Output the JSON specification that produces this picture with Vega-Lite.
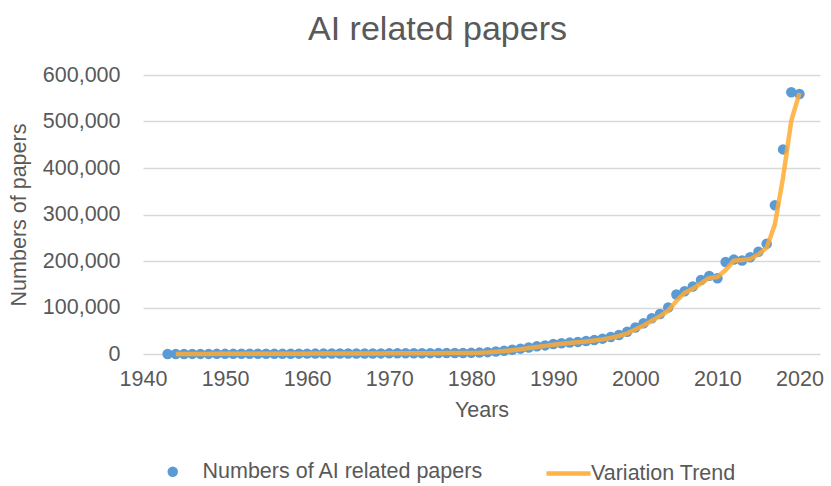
{
  "$schema": "https://vega.github.io/schema/vega-lite/v6.json",
  "width": 677,
  "height": 279,
  "autosize": "none",
  "padding": {"left": 143, "top": 75, "right": 11, "bottom": 132},
  "background": "white",
  "title": {"text": "AI related papers", "fontSize": 34, "font": "Liberation Sans", "color": "#595959", "fontWeight": "normal", "anchor": "middle", "dx": -44, "offset": 17},
  "config": {
    "view": {"stroke": null},
    "axis": {"labelFont": "Liberation Sans", "titleFont": "Liberation Sans", "labelColor": "#595959", "titleColor": "#595959", "labelFontSize": 21.5, "titleFontSize": 21.5, "titleFontWeight": "normal", "domain": false, "ticks": false, "tickSize": 0, "labelFlush": false}
  },
  "data": {"values": [
    {"year": 1943, "papers": 100, "trend": null},
    {"year": 1944, "papers": 150, "trend": 125},
    {"year": 1945, "papers": 150, "trend": 150},
    {"year": 1946, "papers": 200, "trend": 175},
    {"year": 1947, "papers": 200, "trend": 200},
    {"year": 1948, "papers": 250, "trend": 225},
    {"year": 1949, "papers": 300, "trend": 275},
    {"year": 1950, "papers": 300, "trend": 300},
    {"year": 1951, "papers": 350, "trend": 325},
    {"year": 1952, "papers": 400, "trend": 375},
    {"year": 1953, "papers": 450, "trend": 425},
    {"year": 1954, "papers": 500, "trend": 475},
    {"year": 1955, "papers": 550, "trend": 525},
    {"year": 1956, "papers": 600, "trend": 575},
    {"year": 1957, "papers": 650, "trend": 625},
    {"year": 1958, "papers": 700, "trend": 675},
    {"year": 1959, "papers": 750, "trend": 725},
    {"year": 1960, "papers": 800, "trend": 775},
    {"year": 1961, "papers": 850, "trend": 825},
    {"year": 1962, "papers": 900, "trend": 875},
    {"year": 1963, "papers": 950, "trend": 925},
    {"year": 1964, "papers": 1000, "trend": 975},
    {"year": 1965, "papers": 1050, "trend": 1025},
    {"year": 1966, "papers": 1100, "trend": 1075},
    {"year": 1967, "papers": 1150, "trend": 1125},
    {"year": 1968, "papers": 1250, "trend": 1200},
    {"year": 1969, "papers": 1300, "trend": 1275},
    {"year": 1970, "papers": 1400, "trend": 1350},
    {"year": 1971, "papers": 1450, "trend": 1425},
    {"year": 1972, "papers": 1500, "trend": 1475},
    {"year": 1973, "papers": 1600, "trend": 1550},
    {"year": 1974, "papers": 1700, "trend": 1650},
    {"year": 1975, "papers": 1800, "trend": 1750},
    {"year": 1976, "papers": 1900, "trend": 1850},
    {"year": 1977, "papers": 2000, "trend": 1950},
    {"year": 1978, "papers": 2100, "trend": 2050},
    {"year": 1979, "papers": 2300, "trend": 2200},
    {"year": 1980, "papers": 2500, "trend": 2400},
    {"year": 1981, "papers": 3000, "trend": 2750},
    {"year": 1982, "papers": 4000, "trend": 3500},
    {"year": 1983, "papers": 5500, "trend": 4750},
    {"year": 1984, "papers": 7000, "trend": 6250},
    {"year": 1985, "papers": 9000, "trend": 8000},
    {"year": 1986, "papers": 11500, "trend": 10250},
    {"year": 1987, "papers": 14000, "trend": 12750},
    {"year": 1988, "papers": 16500, "trend": 15250},
    {"year": 1989, "papers": 18500, "trend": 17500},
    {"year": 1990, "papers": 21500, "trend": 20000},
    {"year": 1991, "papers": 23000, "trend": 22250},
    {"year": 1992, "papers": 24500, "trend": 23750},
    {"year": 1993, "papers": 26000, "trend": 25250},
    {"year": 1994, "papers": 28000, "trend": 27000},
    {"year": 1995, "papers": 30000, "trend": 29000},
    {"year": 1996, "papers": 33000, "trend": 31500},
    {"year": 1997, "papers": 36500, "trend": 34750},
    {"year": 1998, "papers": 41000, "trend": 38750},
    {"year": 1999, "papers": 48000, "trend": 44500},
    {"year": 2000, "papers": 57000, "trend": 52500},
    {"year": 2001, "papers": 66000, "trend": 61500},
    {"year": 2002, "papers": 77000, "trend": 71500},
    {"year": 2003, "papers": 86000, "trend": 81500},
    {"year": 2004, "papers": 100000, "trend": 93000},
    {"year": 2005, "papers": 128000, "trend": 114000},
    {"year": 2006, "papers": 135000, "trend": 131500},
    {"year": 2007, "papers": 145000, "trend": 140000},
    {"year": 2008, "papers": 159000, "trend": 152000},
    {"year": 2009, "papers": 168000, "trend": 163500},
    {"year": 2010, "papers": 163000, "trend": 165500},
    {"year": 2011, "papers": 198000, "trend": 180500},
    {"year": 2012, "papers": 203000, "trend": 200500},
    {"year": 2013, "papers": 201000, "trend": 202000},
    {"year": 2014, "papers": 208000, "trend": 204500},
    {"year": 2015, "papers": 220000, "trend": 214000},
    {"year": 2016, "papers": 237000, "trend": 228500},
    {"year": 2017, "papers": 320000, "trend": 278500},
    {"year": 2018, "papers": 440000, "trend": 380000},
    {"year": 2019, "papers": 563000, "trend": 501500},
    {"year": 2020, "papers": 559000, "trend": 561000}
  ]},
  "encoding": {
    "x": {"field": "year", "type": "quantitative", "title": "Years",
      "scale": {"domain": [1940, 2022.5], "nice": false, "zero": false},
      "axis": {"values": [1940, 1950, 1960, 1970, 1980, 1990, 2000, 2010, 2020], "format": "d", "grid": false, "labelPadding": 14, "titlePadding": 10}}
  },
  "layer": [
    {
      "mark": {"type": "point", "filled": true, "size": 110, "opacity": 1},
      "encoding": {
        "y": {"field": "papers", "type": "quantitative", "title": "Numbers of papers",
          "scale": {"domain": [0, 600000], "nice": false},
          "axis": {"values": [0, 100000, 200000, 300000, 400000, 500000, 600000], "format": ",d", "grid": true, "gridColor": "#D9D9D9", "gridWidth": 1.5, "labelPadding": 23, "titlePadding": 12}},
        "fill": {"datum": "Numbers of AI related papers", "type": "nominal",
          "scale": {"range": ["#5B9BD5"]},
          "legend": {"orient": "none", "legendX": 19, "legendY": 386, "title": null, "symbolType": "circle",
            "labelFontSize": 21.5, "labelColor": "#595959", "labelFont": "Liberation Sans", "labelLimit": 500,
            "symbolSize": 110, "labelOffset": 19, "padding": 0}}
      }
    },
    {
      "mark": {"type": "line", "strokeWidth": 4.5, "opacity": 0.85},
      "encoding": {
        "y": {"field": "trend", "type": "quantitative"},
        "stroke": {"datum": "Variation Trend", "type": "nominal",
          "scale": {"range": ["#FFAA33"]},
          "legend": {"orient": "none", "legendX": 401, "legendY": 374, "title": null, "symbolType": "stroke",
            "symbolStrokeWidth": 4.5, "symbolSize": 1936, "symbolOpacity": 0.9,
            "labelFontSize": 21.5, "labelColor": "#595959", "labelFont": "Liberation Sans", "labelLimit": 500,
            "labelOffset": -2, "padding": 0}}
      }
    }
  ]
}
